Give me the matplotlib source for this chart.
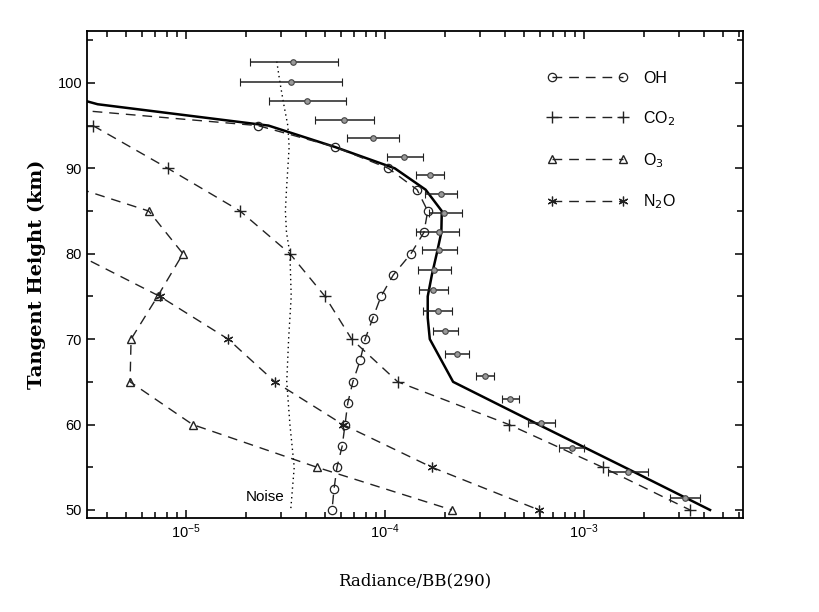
import numpy as np
import matplotlib.pyplot as plt

# 全模式（实线）
tot_z = [98.2, 97.5, 95, 92.5, 90, 87.5, 85, 82.5, 80, 77.5, 75, 72.5, 70, 65, 60, 55, 50]
tot_rad = [2.8e-6, 3.6e-6, 2.6e-5, 5.6e-5, 1.12e-4, 1.6e-4, 1.93e-4, 1.92e-4, 1.82e-4,
           1.72e-4, 1.64e-4, 1.64e-4, 1.68e-4, 2.2e-4, 5.9e-4, 1.6e-3, 4.3e-3]

# OH
oh_z = [97.5, 95, 92.5, 90, 87.5, 85, 82.5, 80, 77.5, 75, 72.5, 70, 67.5, 65, 62.5, 60, 57.5, 55, 52.5, 50]
oh_rad = [1.3e-6, 2.30e-5, 5.61e-5, 1.04e-4, 1.45e-4, 1.64e-4, 1.57e-4, 1.35e-4, 1.10e-4, 9.55e-5,
          8.7e-5, 7.95e-5, 7.5e-5, 6.9e-5, 6.5e-5, 6.3e-5, 6.1e-5, 5.74e-5, 5.55e-5, 5.42e-5]

# CO2
co2_z = [95, 90, 85, 80, 75, 70, 65, 60, 55, 50]
co2_rad = [3.41e-6, 8.1e-6, 1.87e-5, 3.33e-5, 5.0e-5, 6.8e-5, 1.16e-4, 4.2e-4, 1.24e-3, 3.41e-3]

# O3
o3_z = [90, 85, 80, 75, 70, 65, 60, 55, 50]
o3_rad = [1.4e-6, 6.5e-6, 9.66e-6, 7.2e-6, 5.3e-6, 5.24e-6, 1.08e-5, 4.55e-5, 2.17e-4]

# N2O
n2o_z = [80, 75, 70, 65, 60, 55, 50]
n2o_rad = [2.8e-6, 7.4e-6, 1.63e-5, 2.8e-5, 6.15e-5, 1.72e-4, 5.94e-4]

# 噪声
noise_z = [102.5, 100, 97.5, 95, 92.5, 90, 87.5, 85, 82.5, 80, 75, 70, 65, 60, 55, 50]
noise_rad = [2.86e-5, 2.97e-5, 3.1e-5, 3.25e-5, 3.3e-5, 3.25e-5, 3.2e-5, 3.16e-5, 3.2e-5,
             3.33e-5, 3.38e-5, 3.28e-5, 3.21e-5, 3.33e-5, 3.5e-5, 3.36e-5]

# 测量值及误差范围
meas_z = [102.45, 100.1, 97.9, 95.6, 93.5, 91.3, 89.2, 87.0, 84.8, 82.6, 80.4,
          78.1, 75.7, 73.3, 70.9, 68.3, 65.7, 63.0, 60.2, 57.3, 54.4, 51.4]
meas_rad = [3.46e-5, 3.38e-5, 4.07e-5, 6.24e-5, 8.67e-5, 1.25e-4, 1.68e-4, 1.91e-4, 1.99e-4, 1.87e-4, 1.86e-4,
            1.77e-4, 1.75e-4, 1.84e-4, 2.00e-4, 2.29e-4, 3.18e-4, 4.25e-4, 6.08e-4, 8.67e-4, 1.66e-3, 3.23e-3]
meas_lo = [2.10e-5, 1.87e-5, 2.61e-5, 4.45e-5, 6.42e-5, 1.02e-4, 1.43e-4, 1.59e-4, 1.66e-4, 1.44e-4, 1.53e-4,
           1.46e-4, 1.48e-4, 1.56e-4, 1.74e-4, 2.00e-4, 2.86e-4, 3.86e-4, 5.21e-4, 7.48e-4, 1.32e-3, 2.70e-3]
meas_hi = [5.78e-5, 6.05e-5, 6.36e-5, 8.81e-5, 1.18e-4, 1.56e-4, 1.99e-4, 2.29e-4, 2.45e-4, 2.36e-4, 2.31e-4,
           2.15e-4, 2.08e-4, 2.18e-4, 2.33e-4, 2.64e-4, 3.54e-4, 4.71e-4, 7.14e-4, 1.0e-3, 2.10e-3, 3.83e-3]

fig = plt.figure(figsize=(8.2, 6.12), dpi=100)
ax = fig.add_axes([0.106, 0.1536, 0.80, 0.7954])

dash = (7, 5)
ax.plot(tot_rad, tot_z, color="black", lw=1.8)
ax.plot(oh_rad, oh_z, color="#222", lw=1.0, dashes=dash, marker="o", ms=6, mfc="none", mec="#222", mew=0.9, label="OH")
ax.plot(co2_rad, co2_z, color="#222", lw=1.0, dashes=dash, marker="+", ms=9, mew=1.0, label="CO$_2$")
ax.plot(o3_rad, o3_z, color="#222", lw=1.0, dashes=dash, marker="^", ms=6, mfc="none", mec="#222", mew=1.0, label="O$_3$")
ax.plot(n2o_rad, n2o_z, color="#222", lw=1.0, dashes=dash, marker=(6, 2, 0), ms=7, mew=0.9, label="N$_2$O")
ax.plot(noise_rad, noise_z, color="black", lw=1.0, ls=(0, (1, 2.5)))

xerr = [np.array(meas_rad) - np.array(meas_lo), np.array(meas_hi) - np.array(meas_rad)]
ax.errorbar(meas_rad, meas_z, xerr=xerr, fmt="o", ms=4, mfc="#999", mec="#444", mew=0.8,
            ecolor="#222", elinewidth=1.1, capsize=3, capthick=1.1)

ax.text(3.14e-5, 51.5, "Noise", ha="right", va="center", fontsize=11, family="Liberation Sans")

ax.set_xscale("log")
ax.set_xlim(3.18e-6, 6.29e-3)
ax.set_ylim(49.06, 106.05)
ax.set_yticks([50, 60, 70, 80, 90, 100])
ax.set_yticks(np.arange(55, 106, 10), minor=True)
ax.tick_params(which="both", direction="in", top=True, right=True, labelsize=10.5, width=1.1)
ax.tick_params(which="major", length=6)
ax.tick_params(which="minor", length=4)
for lab in ax.get_xticklabels() + ax.get_yticklabels():
    lab.set_family("Liberation Sans")
for s in ax.spines.values():
    s.set_linewidth(1.3)

ax.set_xlabel("Radiance/BB(290)", family="DejaVu Serif", fontsize=12, labelpad=22)
ax.set_ylabel("Tangent Height (km)", family="DejaVu Serif", fontsize=14, fontweight="bold", labelpad=8)

leg = ax.legend(loc="upper left", bbox_to_anchor=(0.69, 0.935), frameon=False, numpoints=2,
                handlelength=5, handletextpad=1.0, labelspacing=1.45, borderpad=0,
                prop={"family": "Liberation Sans", "size": 11.5})

plt.savefig("out.png", dpi=100)
